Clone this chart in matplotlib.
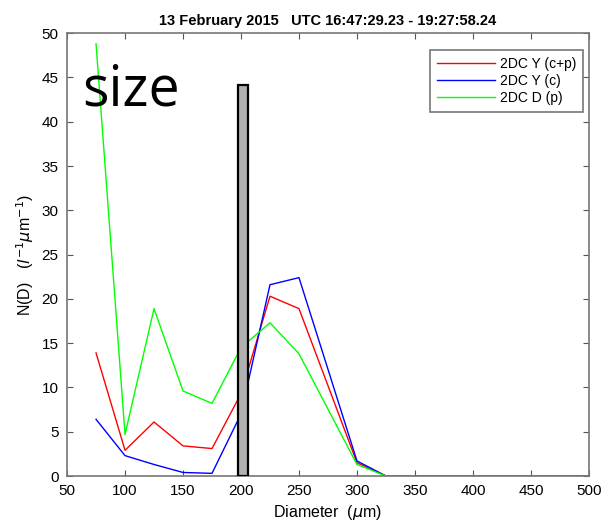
import matplotlib
matplotlib.use("Agg")
import matplotlib.pyplot as plt

diameter = [75, 100, 125, 150, 175, 200, 225, 250, 300, 325, 350, 375, 400, 425, 450, 475, 500]
y_cp = [13.9, 2.9, 6.1, 3.4, 3.1, 9.3, 20.3, 18.9, 1.5, 0, 0, 0, 0, 0, 0, 0, 0]
y_c = [6.4, 2.3, 1.3, 0.4, 0.3, 7.0, 21.6, 22.4, 1.7, 0, 0, 0, 0, 0, 0, 0, 0]
d_p = [48.8, 4.7, 18.9, 9.6, 8.2, 14.5, 17.3, 13.8, 1.3, 0, 0, 0, 0, 0, 0, 0, 0]
labels = ["2DC Y (c+p)", "2DC Y (c)", "2DC D (p)"]
bar_x = [201.5]
bar_h = [44.1]

plt.rcParams['font.family'] = ['Liberation Sans', 'DejaVu Sans']
fig = plt.figure(figsize=(6.04, 5.24), dpi=100)
ax = fig.add_axes([0.111, 0.0916, 0.864, 0.845])

ax.plot(diameter, y_cp, color='#ff0000', lw=1, label=labels[0])
ax.plot(diameter, y_c, color='#0000ff', lw=1, label=labels[1])
ax.plot(diameter, d_p, color='#00ff00', lw=1, label=labels[2])
ax.bar(bar_x, bar_h, width=9, color='#b0b0b0', edgecolor='black', linewidth=1.6, zorder=5)

ax.set_xlim(50, 500)
ax.set_ylim(0, 50)
ax.set_xticks(range(50, 501, 50))
ax.set_yticks(range(0, 51, 5))
ax.tick_params(direction='in', top=True, right=True, labelsize=11, length=4, color='#555555')
ax.tick_params(axis='x', pad=6)
ax.tick_params(axis='y', pad=6)
for s in ax.spines.values():
    s.set_color('#777777')
    s.set_linewidth(1.2)

ax.set_xlabel(r'Diameter  ($\mu$m)', fontsize=11.5, labelpad=3)
ax.set_ylabel(r'N(D)   ($l^{-1}\mu$m$^{-1}$)', fontsize=11.5)
ax.set_title('13 February 2015   UTC 16:47:29.23 - 19:27:58.24', fontsize=10.5, fontweight='bold')

leg = ax.legend(loc='upper right', bbox_to_anchor=(0.9885, 0.9616), fontsize=10,
                fancybox=False, edgecolor='#555555',
                handlelength=4.2, handletextpad=0.3, borderaxespad=0.0, labelspacing=0.2,
                borderpad=0.5)
leg.get_frame().set_linewidth(1.2)

fig.text(82 / 604, 1 - 105 / 524, 'size', fontsize=40, family='Open Sans', va='baseline')

fig.savefig('out.png', dpi=100)
